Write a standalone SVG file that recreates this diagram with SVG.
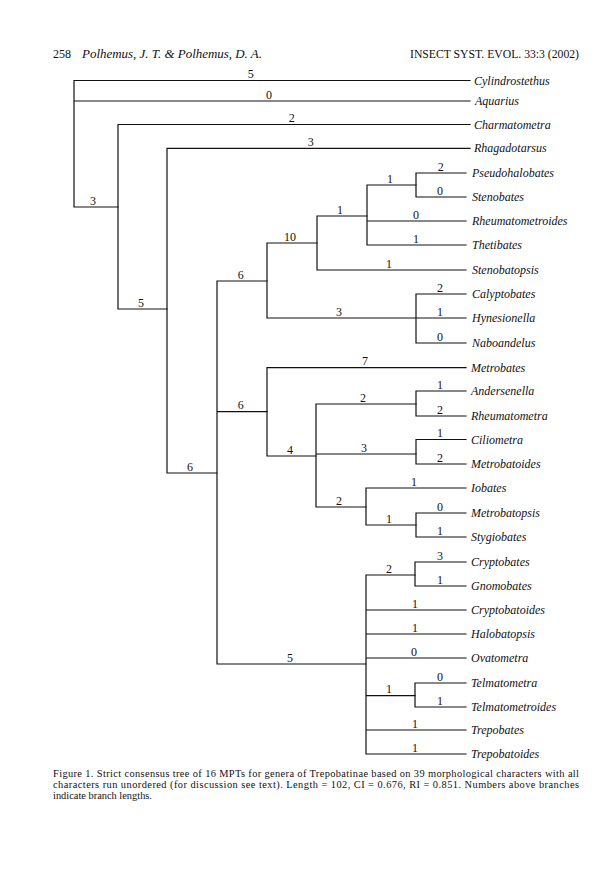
<svg xmlns="http://www.w3.org/2000/svg" width="604" height="876" viewBox="0 0 604 876">
<style>
.br{stroke:#111;stroke-width:1.2;fill:none;stroke-linecap:square}
.tx{font-family:"Liberation Serif","Times New Roman",serif;font-size:12px;font-style:italic;fill:#111}
.num{font-family:"Liberation Serif","Times New Roman",serif;font-size:12px;fill:#111;text-anchor:middle}
.hd{font-family:"Liberation Serif","Times New Roman",serif;font-size:12px;fill:#111}
.cap{font-family:"Liberation Serif","Times New Roman",serif;font-size:10.4px;fill:#111}
</style>
<rect width="604" height="876" fill="#fff"/>
<g id="header">
<text class="hd" x="53" y="58">258</text>
<text class="hd" x="82" y="58" font-style="italic" textLength="180" lengthAdjust="spacingAndGlyphs">Polhemus, J. T. &amp; Polhemus, D. A.</text>
<text class="hd" x="410" y="58" textLength="169" lengthAdjust="spacingAndGlyphs">INSECT SYST. EVOL. 33:3 (2002)</text>
</g>
<g id="connectors">
<path class="br" d="M74,80.5V207H118 M74,80.5H470 M74,101H470"/>
<path class="br" d="M118,124.5V309H167 M118,124.5H470"/>
<path class="br" d="M167,148.3V473H217 M167,148.3H470"/>
<path class="br" d="M217,281V664H366 M217,281H267 M217,411.7H267"/>
<path class="br" d="M267,243V318H466 M267,243H317"/>
<path class="br" d="M317,216V270H466 M317,216H367"/>
<path class="br" d="M367,185V245H466 M367,185H416 M367,221H466"/>
<path class="br" d="M416,173V197H466 M416,173H466"/>
<path class="br" d="M416,294V343H466 M416,294H466"/>
<path class="br" d="M267,367.7V456H316 M267,367.7H466"/>
<path class="br" d="M316,404V507H366 M316,404H416 M316,454H416"/>
<path class="br" d="M416,391V416H466 M416,391H466"/>
<path class="br" d="M416,439.5V464H466 M416,439.5H466"/>
<path class="br" d="M366,488V525H416 M366,488H466"/>
<path class="br" d="M416,513V537H466 M416,513H466"/>
<path class="br" d="M366,575V754H466 M366,575H415 M366,610H466 M366,634H466 M366,658H466 M366,695.7H415 M366,730H466"/>
<path class="br" d="M415,562V586H466 M415,562H466"/>
<path class="br" d="M415,683V707H466 M415,683H466"/>
</g>
<g id="branch-lengths">
<text class="num" x="250.7" y="78">5</text>
<text class="num" x="269" y="98.5">0</text>
<text class="num" x="291.7" y="122">2</text>
<text class="num" x="310.7" y="146">3</text>
<text class="num" x="93" y="204.5">3</text>
<text class="num" x="141" y="306.5">5</text>
<text class="num" x="440.7" y="170.5">2</text>
<text class="num" x="440" y="194.5">0</text>
<text class="num" x="390" y="182.5">1</text>
<text class="num" x="340" y="213.5">1</text>
<text class="num" x="416" y="218.5">0</text>
<text class="num" x="416" y="242.5">1</text>
<text class="num" x="389" y="267.5">1</text>
<text class="num" x="290" y="240.5">10</text>
<text class="num" x="240.7" y="278.5">6</text>
<text class="num" x="440" y="291.5">2</text>
<text class="num" x="339" y="315.5">3</text>
<text class="num" x="440" y="315.5">1</text>
<text class="num" x="440" y="340.5">0</text>
<text class="num" x="365" y="365">7</text>
<text class="num" x="440" y="388.5">1</text>
<text class="num" x="363" y="401.5">2</text>
<text class="num" x="440" y="413.5">2</text>
<text class="num" x="440" y="437">1</text>
<text class="num" x="364" y="451.5">3</text>
<text class="num" x="440" y="461.5">2</text>
<text class="num" x="414" y="485.5">1</text>
<text class="num" x="339" y="504.5">2</text>
<text class="num" x="440" y="510.5">0</text>
<text class="num" x="389" y="522.5">1</text>
<text class="num" x="440" y="534.5">1</text>
<text class="num" x="240.7" y="409">6</text>
<text class="num" x="290" y="453.5">4</text>
<text class="num" x="190" y="470.5">6</text>
<text class="num" x="440" y="559.5">3</text>
<text class="num" x="389" y="572.5">2</text>
<text class="num" x="440" y="583.5">1</text>
<text class="num" x="415" y="607.5">1</text>
<text class="num" x="415" y="631.5">1</text>
<text class="num" x="414" y="655.5">0</text>
<text class="num" x="440" y="680.5">0</text>
<text class="num" x="389" y="693">1</text>
<text class="num" x="440" y="704.5">1</text>
<text class="num" x="415" y="727.5">1</text>
<text class="num" x="415" y="751.5">1</text>
<text class="num" x="290" y="661.5">5</text>
</g>
<g id="n-cylindrostethus"><text class="tx" x="474" y="84.5">Cylindrostethus</text></g>
<g id="n-aquarius"><text class="tx" x="475" y="105">Aquarius</text></g>
<g id="n-charmatometra"><text class="tx" x="474" y="128.5">Charmatometra</text></g>
<g id="n-rhagadotarsus"><text class="tx" x="474" y="152.3">Rhagadotarsus</text></g>
<g id="n-pseudohalobates"><text class="tx" x="472" y="177">Pseudohalobates</text></g>
<g id="n-stenobates"><text class="tx" x="472" y="201">Stenobates</text></g>
<g id="n-rheumatometroides"><text class="tx" x="472" y="225">Rheumatometroides</text></g>
<g id="n-thetibates"><text class="tx" x="472" y="249">Thetibates</text></g>
<g id="n-stenobatopsis"><text class="tx" x="472" y="274">Stenobatopsis</text></g>
<g id="n-calyptobates"><text class="tx" x="472" y="298">Calyptobates</text></g>
<g id="n-hynesionella"><text class="tx" x="472" y="322">Hynesionella</text></g>
<g id="n-naboandelus"><text class="tx" x="472" y="347">Naboandelus</text></g>
<g id="n-metrobates"><text class="tx" x="471" y="371.7">Metrobates</text></g>
<g id="n-andersenella"><text class="tx" x="471" y="395">Andersenella</text></g>
<g id="n-rheumatometra"><text class="tx" x="471" y="420">Rheumatometra</text></g>
<g id="n-ciliometra"><text class="tx" x="471" y="443.5">Ciliometra</text></g>
<g id="n-metrobatoides"><text class="tx" x="471" y="468">Metrobatoides</text></g>
<g id="n-iobates"><text class="tx" x="471" y="492">Iobates</text></g>
<g id="n-metrobatopsis"><text class="tx" x="471" y="517">Metrobatopsis</text></g>
<g id="n-stygiobates"><text class="tx" x="471" y="541">Stygiobates</text></g>
<g id="n-cryptobates"><text class="tx" x="471" y="566">Cryptobates</text></g>
<g id="n-gnomobates"><text class="tx" x="471" y="590">Gnomobates</text></g>
<g id="n-cryptobatoides"><text class="tx" x="471" y="614">Cryptobatoides</text></g>
<g id="n-halobatopsis"><text class="tx" x="471" y="638">Halobatopsis</text></g>
<g id="n-ovatometra"><text class="tx" x="471" y="662">Ovatometra</text></g>
<g id="n-telmatometra"><text class="tx" x="471" y="687">Telmatometra</text></g>
<g id="n-telmatometroides"><text class="tx" x="471" y="711">Telmatometroides</text></g>
<g id="n-trepobates"><text class="tx" x="471" y="734">Trepobates</text></g>
<g id="n-trepobatoides"><text class="tx" x="471" y="758">Trepobatoides</text></g>
<g id="caption">
<text class="cap" x="53" y="777" textLength="526" lengthAdjust="spacing">Figure 1. Strict consensus tree of 16 MPTs for genera of Trepobatinae based on 39 morphological characters with all</text>
<text class="cap" x="53" y="788" textLength="526" lengthAdjust="spacing">characters run unordered (for discussion see text). Length = 102, CI = 0.676, RI = 0.851. Numbers above branches</text>
<text class="cap" x="53" y="799">indicate branch lengths.</text>
</g>
</svg>
